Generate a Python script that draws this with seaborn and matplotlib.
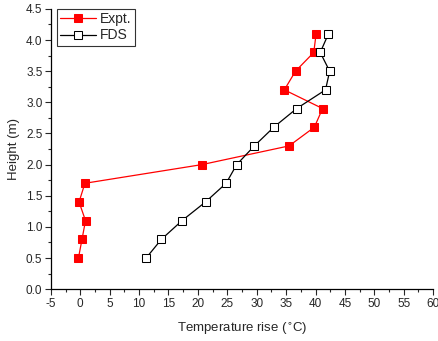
import numpy as np
import pandas as pd
import matplotlib
matplotlib.use('Agg')
import matplotlib.pyplot as plt
import matplotlib.ticker as ticker
import seaborn as sns

# heights (m) and temperature rise (C)
height = [0.5, 0.8, 1.1, 1.4, 1.7, 2.0, 2.3, 2.6, 2.9, 3.2, 3.5, 3.8, 4.1]
expt = [-0.3, 0.3, 0.9, -0.2, 0.8, 20.7, 35.5, 39.8, 41.2, 34.7, 36.6, 39.7, 40.1]
fds = [11.2, 13.8, 17.3, 21.3, 24.8, 26.6, 29.6, 32.9, 36.8, 41.7, 42.4, 40.8, 42.2]

sns.set_style('ticks')
plt.rcParams['font.family'] = ['Liberation Sans', 'DejaVu Sans']
plt.rcParams['axes.unicode_minus'] = False

fig = plt.figure(figsize=(4.38, 3.41), dpi=100)
ax = fig.add_axes([0.116, 0.152, 0.873, 0.822])

sns.lineplot(x=expt, y=height, sort=False, color='red', marker='s', markersize=5.2,
             markeredgecolor='red', linewidth=0.9, label='Expt.', ax=ax)
sns.lineplot(x=fds, y=height, sort=False, color='black', marker='s', markersize=5.2,
             markerfacecolor='white', markeredgecolor='black', linewidth=0.9,
             label='FDS', ax=ax)

ax.set_xlim(-5, 60)
ax.set_ylim(0, 4.5)
ax.xaxis.set_major_locator(ticker.MultipleLocator(5))
ax.xaxis.set_minor_locator(ticker.MultipleLocator(2.5))
ax.yaxis.set_major_locator(ticker.MultipleLocator(0.5))
ax.yaxis.set_minor_locator(ticker.MultipleLocator(0.25))
ax.yaxis.set_major_formatter(ticker.FormatStrFormatter('%.1f'))
ax.tick_params(which='major', direction='out', length=4, width=0.8, labelsize=8.5, pad=2)
ax.tick_params(which='minor', direction='out', length=2, width=0.8)
sns.despine(ax=ax)
for s in ['left', 'bottom']:
    ax.spines[s].set_linewidth(0.9)
    ax.spines[s].set_color('black')

ax.set_xlabel('Temperature rise ($^{\\circ}$C)', fontsize=9.5, labelpad=8)
ax.set_ylabel('Height (m)', fontsize=9.5, labelpad=4)

leg = ax.legend(loc='upper left', bbox_to_anchor=(0.015, 1.0), fontsize=10,
                frameon=True, fancybox=False, edgecolor='black', handlelength=2.6,
                borderpad=0.25, labelspacing=0.15, handletextpad=0.3, borderaxespad=0)
leg.get_frame().set_linewidth(0.8)

fig.savefig('out.png', dpi=100)
